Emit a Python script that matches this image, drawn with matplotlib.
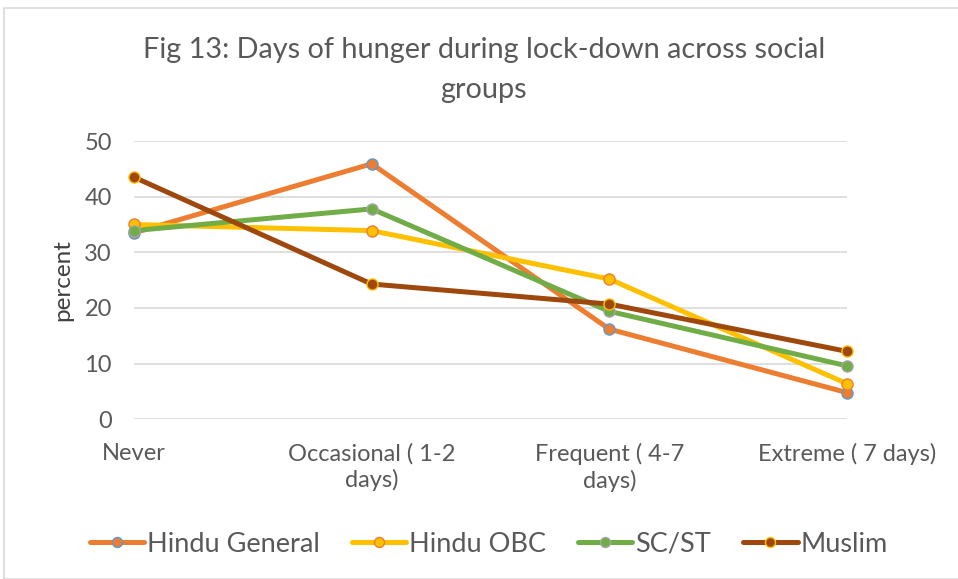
import matplotlib
matplotlib.use("Agg")
import matplotlib.pyplot as plt
from matplotlib.patches import Rectangle

categories = ["Never", "Occasional ( 1-2\ndays)", "Frequent ( 4-7\ndays)", "Extreme ( 7 days)"]
hindu_general = [33.5, 45.9, 16.2, 4.8]
hindu_obc = [35.0, 33.9, 25.2, 6.4]
sc_st = [33.9, 37.8, 19.4, 9.6]
muslim = [43.5, 24.3, 20.7, 12.2]

series = [
    ("Hindu General", hindu_general, "#ED7D31", "#ED7D31", "#5B9BD5"),
    ("Hindu OBC", hindu_obc, "#FFC000", "#FFC000", "#ED7D31"),
    ("SC/ST", sc_st, "#70AD47", "#70AD47", "#A5A5A5"),
    ("Muslim", muslim, "#9E480E", "#9E480E", "#FFC000"),
]

plt.rcParams['font.family'] = ['Lato', 'DejaVu Sans']
txt = "#595959"

fig = plt.figure(figsize=(9.58, 5.79), dpi=100)
fig.patches.append(Rectangle((4/958, 0), 1, 1 - 8/579, transform=fig.transFigure,
                             fill=False, edgecolor="#D9D9D9", linewidth=1.2))
ax = fig.add_axes([134/958, 1 - 419.3/579, (847-134)/958, (419.3-141)/579])

x = list(range(len(categories)))
for name, vals, lc, fc, ec in series:
    ax.plot(x, vals, color=lc, linewidth=3.6, marker="o", markersize=8,
            markerfacecolor=fc, markeredgecolor=ec, markeredgewidth=1.0,
            label=name, solid_capstyle="round", clip_on=False)

ax.set_xlim(0, 3)
ax.set_ylim(0, 50)
ax.set_yticks([0, 10, 20, 30, 40, 50])
ax.set_xticks(x)
ax.set_xticklabels(categories, linespacing=1.25)
ax.grid(axis="y", color="#D9D9D9", linewidth=1.2)
ax.set_axisbelow(True)
for s in ax.spines.values():
    s.set_visible(False)
ax.tick_params(axis="both", length=0, labelsize=17, labelcolor=txt)
ax.tick_params(axis="x", pad=17)
ax.tick_params(axis="y", pad=16)
ax.set_ylabel("percent", fontsize=17.5, color="#404040", labelpad=8)

fig.text(0.505, 1 - 50/579, "Fig 13: Days of hunger during lock-down across social",
         ha="center", va="center", fontsize=20.8, color=txt)
fig.text(0.505, 1 - 90/579, "groups", ha="center", va="center", fontsize=20.8, color=txt)

fig.legend(loc="center", bbox_to_anchor=(0.51, 1 - 544/579), ncol=4, frameon=False,
           fontsize=19.5, labelcolor=txt, handlelength=2.0, handletextpad=0.1,
           columnspacing=1.2, markerscale=0.9)

fig.savefig("out.png", dpi=100)
